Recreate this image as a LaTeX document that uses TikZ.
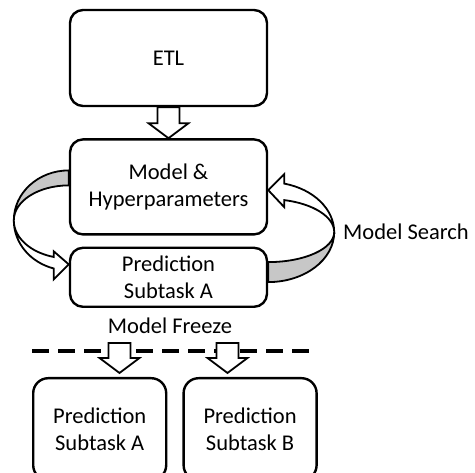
\documentclass[tikz,border=0pt]{standalone}
\usepackage{fontspec}
\setmainfont{Carlito}
\usepackage{tikz}
\usetikzlibrary{
  positioning,
  calc
}
\pgfdeclarelayer{ribbons}
\pgfsetlayers{ribbons,main}
\newcommand{\flowfont}{\fontsize{22.5}{27}\selectfont}
\tikzset{
  stagebox/.style={
    draw=black,
    fill=white,
    line width=2.4pt,
    rounded corners=13pt,
    align=center,
    font=\flowfont,
    inner sep=2pt
  },
  fatarrow/.style={
    draw=black,
    fill=white,
    line width=1.8pt,
    line join=miter
  },
  ribbonback/.style={
    draw=black,
    fill=black!22,
    line width=1.8pt
  },
  ribbonfront/.style={
    draw=black,
    fill=white,
    line width=1.8pt
  },
  steplabel/.style={font=\flowfont, inner sep=0pt}
}
% hollow block arrow, straight down from #1 to #2
\newcommand{\hollowarrow}[2]{%
  \draw[fatarrow] let \p1=(#1), \p2=(#2) in
    (\x1-11pt,\y1) -- (\x1-11pt,\y2+15pt) -- (\x1-20pt,\y2+15pt) -- (\x1,\y2)
    -- (\x1+20pt,\y2+15pt) -- (\x1+11pt,\y2+15pt) -- (\x1+11pt,\y1) -- cycle;}

\begin{document}
\begin{tikzpicture}[
  x=1pt, y=1pt,
  wide/.style={stagebox, minimum width=197pt},
  outbox/.style={stagebox, minimum width=133pt, minimum height=102pt, rounded corners=15pt}
]
  \useasboundingbox (0,0) rectangle (475,-473);
  \clip (0,0) rectangle (475,-473);

  \node[wide, minimum height=96pt] (etl) at (168.5,-58) {ETL};
  \node[wide, minimum height=95pt, below=31pt of etl] (model) {Model \&\\Hyperparameters};
  \node[wide, minimum height=59pt, below=11pt of model] (predA) {Prediction\\Subtask A};

  \hollowarrow{etl.south}{model.north}

  % search loop
  \coordinate (lcen) at ($(model.west)+(0,-33.5)$);
  \coordinate (rcen) at ($(model.east)!0.5!(predA.east)$);
  \begin{pgfonlayer}{ribbons}
    \begin{scope}[shift={(lcen)}]
      \draw[ribbonback] (0,50) arc[start angle=90, end angle=180, x radius=55, y radius=50]
        arc[start angle=180, end angle=90, x radius=55, y radius=35] -- cycle;
      \draw[ribbonfront] (-55,0) arc[start angle=180, end angle=254.2, x radius=55, y radius=50]
        -- (-15,-59) -- (0,-44) -- (-15,-31) -- (-15,-36.6)
        arc[start angle=254.2, end angle=180, x radius=55, y radius=38] -- cycle;
    \end{scope}
    \begin{scope}[shift={(rcen)}]
      \draw[ribbonback] (0,-50) arc[start angle=270, end angle=360, x radius=66, y radius=50]
        arc[start angle=0, end angle=-90, x radius=66, y radius=30] -- cycle;
      \draw[ribbonfront] (66,0) arc[start angle=0, end angle=76, x radius=66, y radius=50]
        -- (16,58) -- (0,42) -- (16,25) -- (16,32)
        arc[start angle=76, end angle=0, x radius=66, y radius=33] -- cycle;
    \end{scope}
  \end{pgfonlayer}
  \node[steplabel, anchor=west] (search) at (343,-232) {Model Search};

  % freeze
  \node[steplabel] (freeze) at (170,-326) {Model Freeze};
  \coordinate (fl) at (32,-351);
  \coordinate (fr) at (313,-351);
  \draw[line width=4pt, dash pattern=on 17pt off 9pt] (fl) -- (fr);

  \node[outbox, anchor=north west] (outA) at (32,-377) {Prediction\\Subtask A};
  \node[outbox, right=15pt of outA] (outB) {Prediction\\Subtask B};

  \coordinate (fzA) at (119.5,-343);
  \coordinate (fzAt) at (119.5,-373);
  \coordinate (fzB) at (227.5,-343);
  \coordinate (fzBt) at (227.5,-373);
  \hollowarrow{fzA}{fzAt}
  \hollowarrow{fzB}{fzBt}
\end{tikzpicture}
\end{document}
